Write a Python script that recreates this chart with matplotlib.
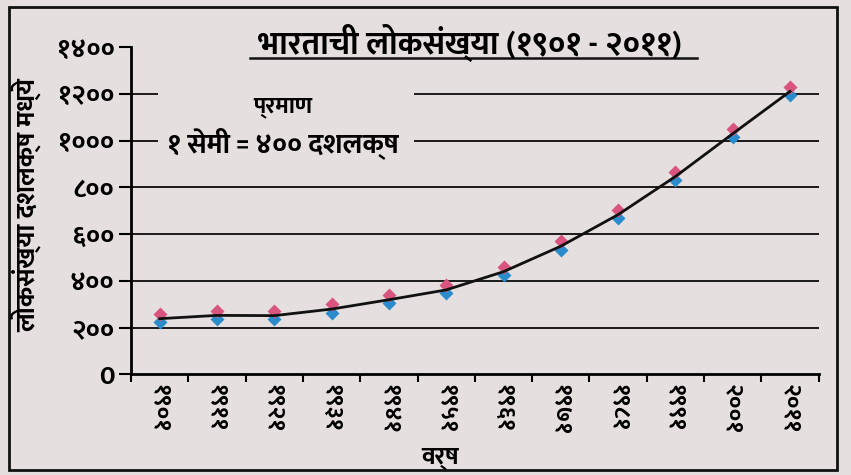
import numpy as np
import matplotlib
matplotlib.use("Agg")
import matplotlib.pyplot as plt
from matplotlib import font_manager, transforms
from matplotlib.ft2font import FT2Font
from matplotlib.patches import Rectangle
from matplotlib.lines import Line2D

# data: India population (millions), census years
years = ["१९०१", "१९११", "१९२१", "१९३१", "१९४१", "१९५१",
         "१९६१", "१९७१", "१९८१", "१९९१", "२००१", "२०११"]
population = [238, 252, 251, 279, 319, 361, 439, 548, 683, 846, 1029, 1210]
y_ticks = [0, 200, 400, 600, 800, 1000, 1200, 1400]
y_tick_labels = ["0", "२००", "४००", "६००", "८००", "१०००", "१२००", "१४००"]

title = "भारताची लोकसंख्या (१९०१ - २०११)"
x_label = "वर्ष"
y_label = "लोकसंख्या दशलक्ष मध्ये"
scale_title = "प्रमाण"
scale_text = "१ सेमी = ४०० दशलक्ष"


def pick_devanagari_font():
    # prefer a family that ships a real bold file
    wanted = ["Mukta", "Hind", "Yantramanav", "Poppins", "Noto Sans Devanagari",
              "Arya", "FreeSans"]
    bold = set()
    for f in font_manager.fontManager.ttflist:
        if f.name in wanted and isinstance(f.weight, int) and f.weight >= 600:
            try:
                if FT2Font(f.fname).get_char_index(ord("भ")):
                    bold.add(f.name)
            except Exception:
                pass
    for w in wanted:
        if w in bold:
            return w
    return None


deva = pick_devanagari_font()
fams = [deva, "DejaVu Sans"] if deva else ["DejaVu Sans"]
plt.rcParams["font.family"] = fams

bg = "#e6dfe0"
fig = plt.figure(figsize=(8.51, 4.75), dpi=100, facecolor=bg)
ax = fig.add_axes([0.154, 0.212, 0.808, 0.689])
ax.set_facecolor(bg)

x = np.arange(len(years)) + 0.5

# gridlines, 1000 and 1200 broken where the scale note sits
for v in y_ticks[1:-1]:
    if v in (1000, 1200):
        ax.plot([0, 0.45], [v, v], color="#1a1a1a", lw=1.4, zorder=1)
        ax.plot([4.95, 12], [v, v], color="#1a1a1a", lw=1.4, zorder=1)
    else:
        ax.plot([0, 12], [v, v], color="#1a1a1a", lw=1.4, zorder=1)

ax.plot(x, population, color="#111111", lw=2.0, zorder=3)
up = transforms.offset_copy(ax.transData, fig=fig, y=3.5, units="points")
down = transforms.offset_copy(ax.transData, fig=fig, y=-2.5, units="points")
ax.plot(x, population, "D", ms=7, color="#2b8ccc", mec="none", transform=down, zorder=2)
ax.plot(x, population, "D", ms=7, color="#d9557f", mec="none", transform=up, zorder=2)

ax.set_xlim(0, 12)
ax.set_ylim(0, 1400)
ax.set_xticks(np.arange(13))
ax.set_xticklabels([])
ax.set_xticks(x, minor=True)
ax.set_xticklabels(years, minor=True, rotation=-90, fontsize=17, fontweight="bold", va="top")
ax.tick_params(axis="x", which="major", direction="out", length=6, width=1.5)
ax.tick_params(axis="x", which="minor", length=0, pad=7)
ax.set_yticks(y_ticks)
ax.set_yticklabels(y_tick_labels, fontsize=19, fontweight="bold")
ax.tick_params(axis="y", direction="out", length=9, width=1.5, pad=3)

for s in ["top", "right"]:
    ax.spines[s].set_visible(False)
for s in ["left", "bottom"]:
    ax.spines[s].set_linewidth(2)

ax.text(2.65, 1145, scale_title, fontsize=17, fontweight="bold", ha="center", va="center")
ax.text(2.65, 990, scale_text, fontsize=20, fontweight="bold", ha="center", va="center")

fig.text(0.552, 0.91, title, fontsize=23, fontweight="bold", ha="center", va="center")
fig.add_artist(Line2D([0.294, 0.819], [0.878, 0.878], color="#111111", lw=1.8))
fig.text(0.517, 0.035, x_label, fontsize=18, fontweight="bold", ha="center", va="center")
fig.text(0.03, 0.568, y_label, fontsize=19, fontweight="bold", rotation=90, ha="center", va="center")

fig.add_artist(Rectangle((0.011, 0.011), 0.972, 0.975, transform=fig.transFigure,
                         fill=False, ec="#111111", lw=2))

fig.savefig("out.png", dpi=100, facecolor=bg)
